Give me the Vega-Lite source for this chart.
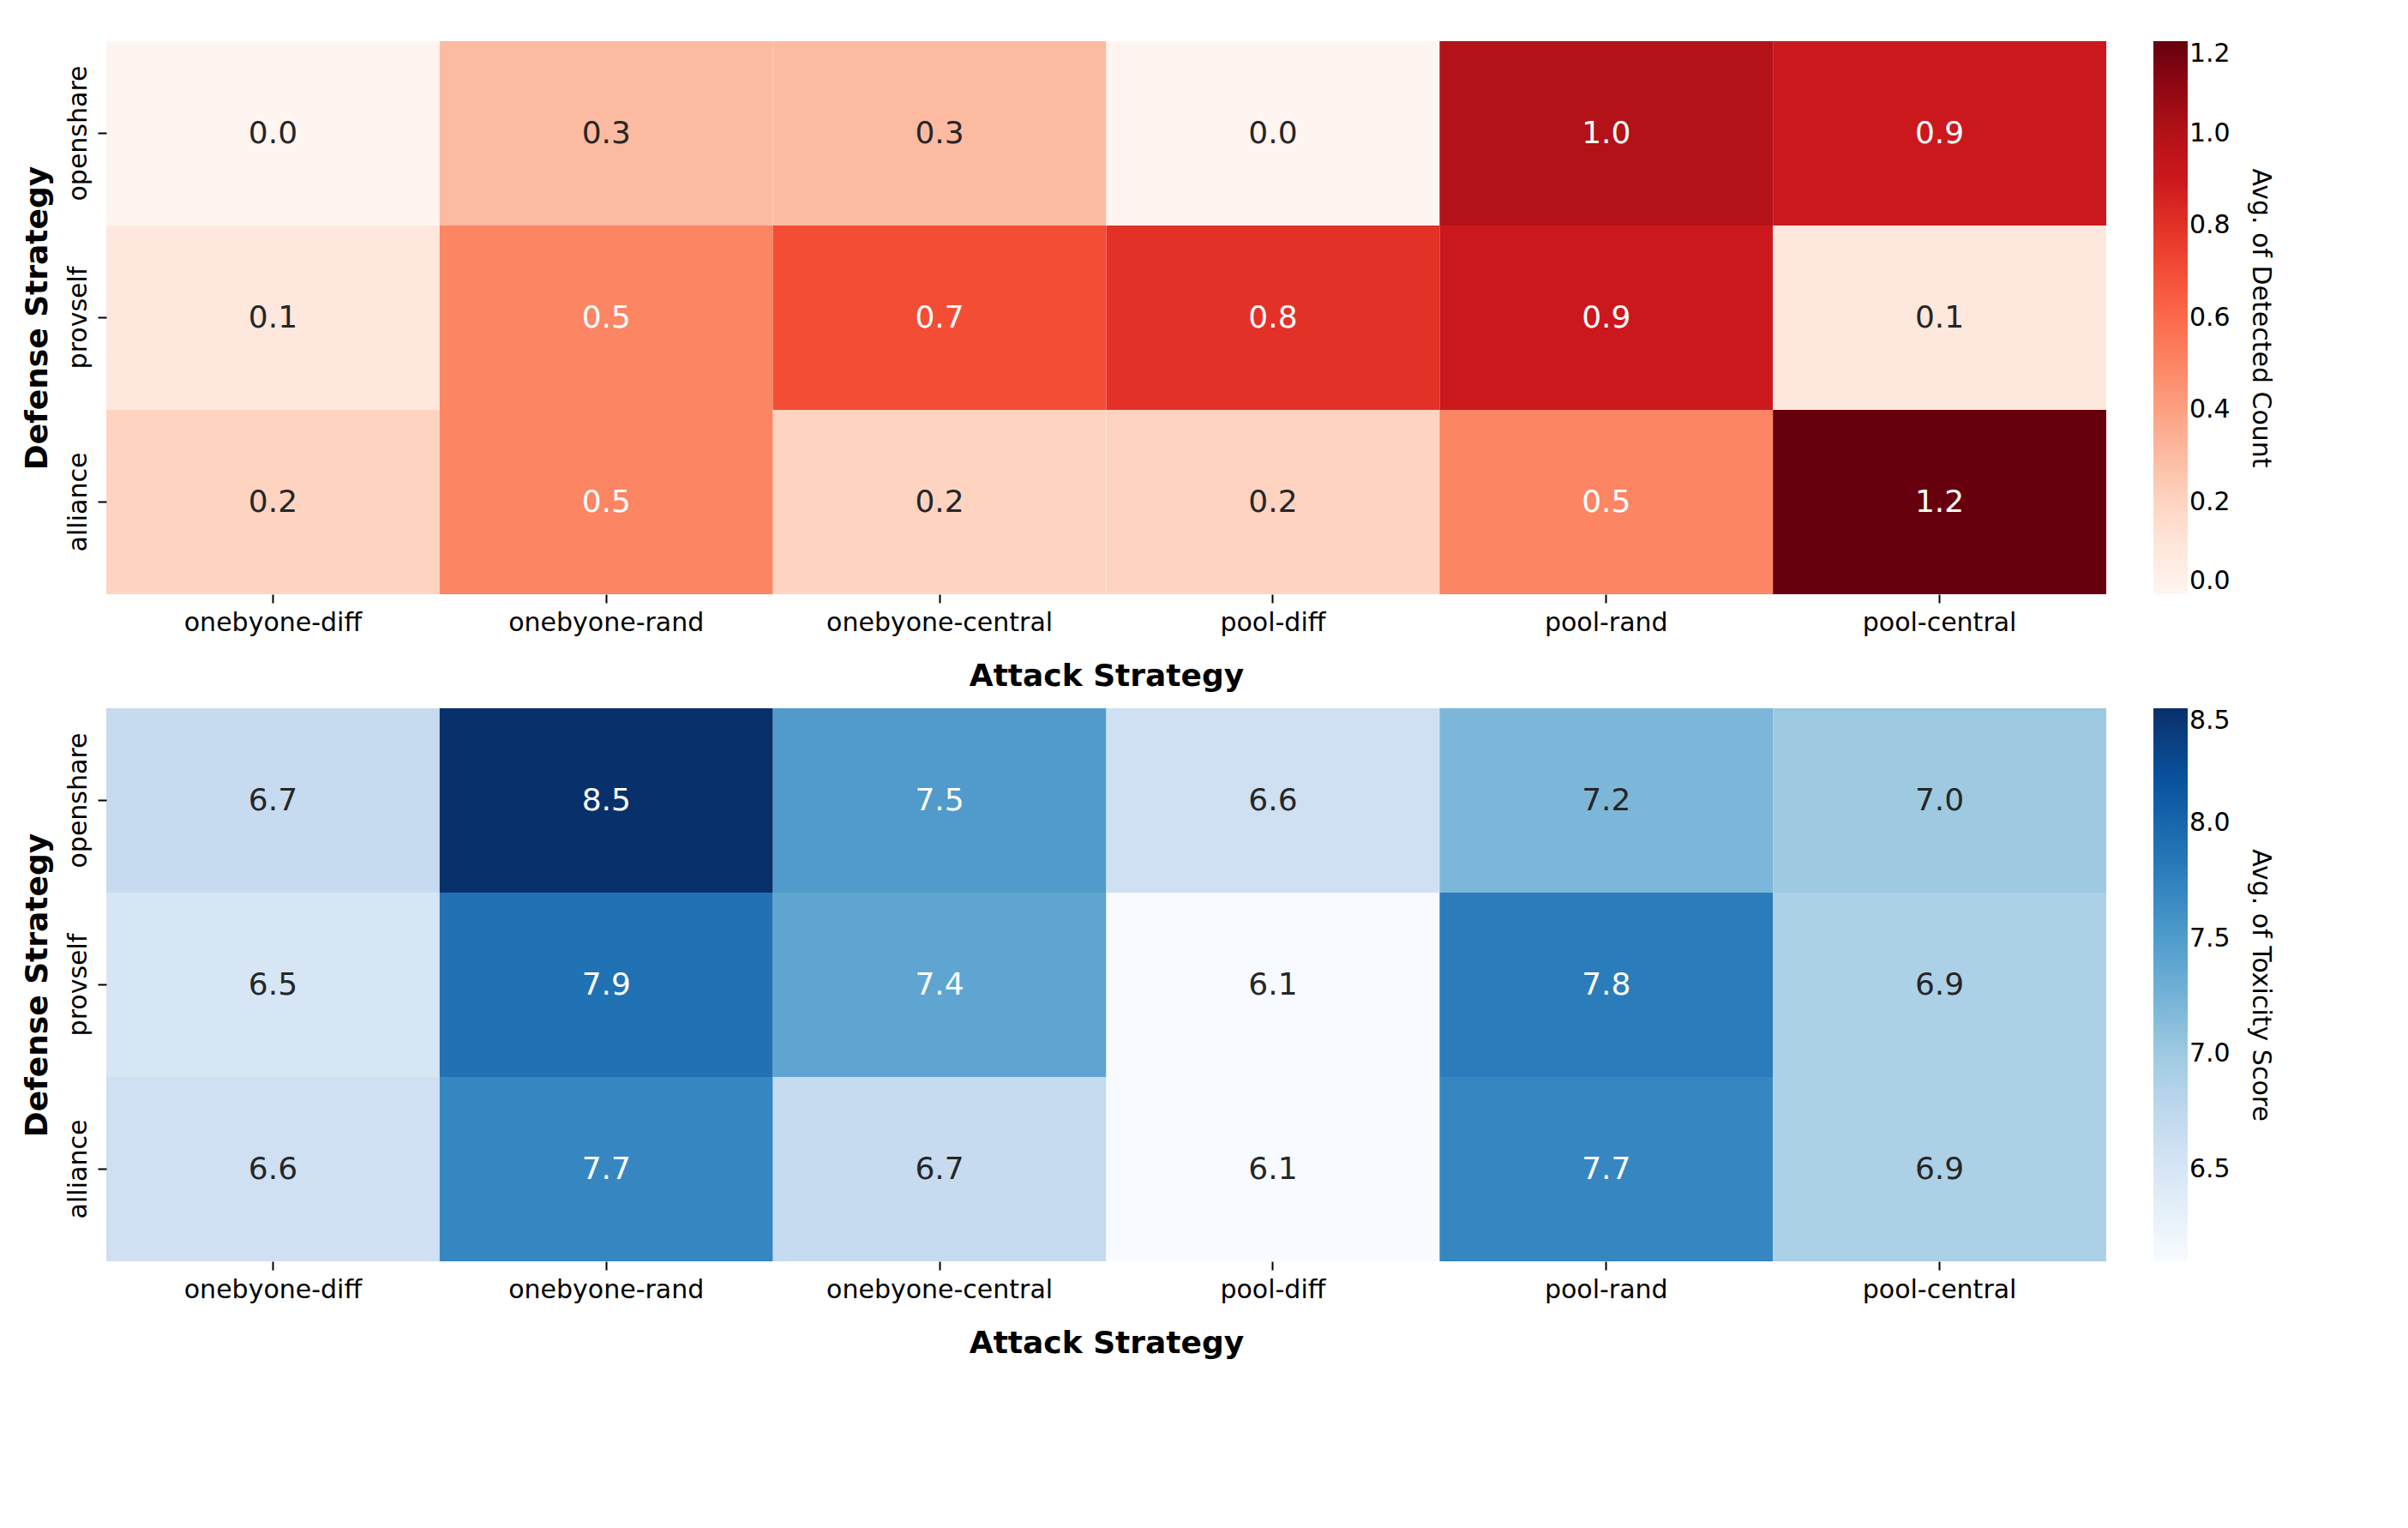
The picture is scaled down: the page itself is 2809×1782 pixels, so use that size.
{
  "$schema": "https://vega.github.io/schema/vega-lite/v6.json",
  "background": "white",
  "padding": {"top": 48, "left": 24, "right": 20, "bottom": 20},
  "config": {
    "font": "DejaVu Sans",
    "view": {"stroke": null},
    "axis": {"labelFont": "DejaVu Sans", "titleFont": "DejaVu Sans", "labelFontSize": 30, "titleFontSize": 36, "titleFontWeight": "bold", "labelColor": "#000", "titleColor": "#000", "domain": false, "tickColor": "#000", "tickSize": 10, "tickWidth": 2, "grid": false, "labelPadding": 8, "labelLimit": 0},
    "legend": {"labelFont": "DejaVu Sans", "titleFont": "DejaVu Sans", "labelFontSize": 30, "titleFontSize": 30, "titleFontWeight": "normal", "labelColor": "#000", "titleColor": "#000", "labelLimit": 0, "titleLimit": 0},
    "vconcat": {"spacing": 60}
  },
  "datasets": {
    "detected": [
      {"attack": "onebyone-diff", "defense": "openshare", "value": 0.0},
      {"attack": "onebyone-rand", "defense": "openshare", "value": 0.3},
      {"attack": "onebyone-central", "defense": "openshare", "value": 0.3},
      {"attack": "pool-diff", "defense": "openshare", "value": 0.0},
      {"attack": "pool-rand", "defense": "openshare", "value": 1.0},
      {"attack": "pool-central", "defense": "openshare", "value": 0.9},
      {"attack": "onebyone-diff", "defense": "provself", "value": 0.1},
      {"attack": "onebyone-rand", "defense": "provself", "value": 0.5},
      {"attack": "onebyone-central", "defense": "provself", "value": 0.7},
      {"attack": "pool-diff", "defense": "provself", "value": 0.8},
      {"attack": "pool-rand", "defense": "provself", "value": 0.9},
      {"attack": "pool-central", "defense": "provself", "value": 0.1},
      {"attack": "onebyone-diff", "defense": "alliance", "value": 0.2},
      {"attack": "onebyone-rand", "defense": "alliance", "value": 0.5},
      {"attack": "onebyone-central", "defense": "alliance", "value": 0.2},
      {"attack": "pool-diff", "defense": "alliance", "value": 0.2},
      {"attack": "pool-rand", "defense": "alliance", "value": 0.5},
      {"attack": "pool-central", "defense": "alliance", "value": 1.2}
    ],
    "toxicity": [
      {"attack": "onebyone-diff", "defense": "openshare", "value": 6.7},
      {"attack": "onebyone-rand", "defense": "openshare", "value": 8.5},
      {"attack": "onebyone-central", "defense": "openshare", "value": 7.5},
      {"attack": "pool-diff", "defense": "openshare", "value": 6.6},
      {"attack": "pool-rand", "defense": "openshare", "value": 7.2},
      {"attack": "pool-central", "defense": "openshare", "value": 7.0},
      {"attack": "onebyone-diff", "defense": "provself", "value": 6.5},
      {"attack": "onebyone-rand", "defense": "provself", "value": 7.9},
      {"attack": "onebyone-central", "defense": "provself", "value": 7.4},
      {"attack": "pool-diff", "defense": "provself", "value": 6.1},
      {"attack": "pool-rand", "defense": "provself", "value": 7.8},
      {"attack": "pool-central", "defense": "provself", "value": 6.9},
      {"attack": "onebyone-diff", "defense": "alliance", "value": 6.6},
      {"attack": "onebyone-rand", "defense": "alliance", "value": 7.7},
      {"attack": "onebyone-central", "defense": "alliance", "value": 6.7},
      {"attack": "pool-diff", "defense": "alliance", "value": 6.1},
      {"attack": "pool-rand", "defense": "alliance", "value": 7.7},
      {"attack": "pool-central", "defense": "alliance", "value": 6.9}
    ]
  },
  "vconcat": [
    {
      "width": 2333,
      "height": 645,
      "data": {"name": "detected"},
      "encoding": {
        "x": {"field": "attack", "type": "nominal", "sort": ["onebyone-diff", "onebyone-rand", "onebyone-central", "pool-diff", "pool-rand", "pool-central"], "title": "Attack Strategy", "axis": {"labelAngle": 0, "titlePadding": 30}},
        "y": {"field": "defense", "type": "nominal", "sort": ["openshare", "provself", "alliance"], "title": "Defense Strategy", "axis": {"labelAngle": -90, "labelAlign": "center", "labelBaseline": "bottom", "titlePadding": 14}}
      },
      "layer": [
        {
          "mark": {"type": "rect"},
          "encoding": {
            "color": {"field": "value", "type": "quantitative", "scale": {"range": ["#fff5f0", "#fee0d2", "#fcbba1", "#fc9272", "#fb6a4a", "#ef3b2c", "#cb181d", "#a50f15", "#67000d"], "domain": [0, 1.2]}, "title": "Avg. of Detected Count",
              "legend": {"gradientLength": 645, "gradientThickness": 40, "values": [0, 0.2, 0.4, 0.6, 0.8, 1.0, 1.2], "format": ".1f", "titleOrient": "right", "titleAngle": -90, "titleAlign": "center", "titleBaseline": "bottom", "titlePadding": 20, "offset": 55}}
          }
        },
        {
          "mark": {"type": "text", "fontSize": 36},
          "encoding": {
            "text": {"field": "value", "type": "quantitative", "format": ".1f"},
            "color": {"condition": {"test": "datum.value > 0.45", "value": "white"}, "value": "#262626"}
          }
        }
      ]
    },
    {
      "width": 2333,
      "height": 645,
      "data": {"name": "toxicity"},
      "encoding": {
        "x": {"field": "attack", "type": "nominal", "sort": ["onebyone-diff", "onebyone-rand", "onebyone-central", "pool-diff", "pool-rand", "pool-central"], "title": "Attack Strategy", "axis": {"labelAngle": 0, "titlePadding": 30}},
        "y": {"field": "defense", "type": "nominal", "sort": ["openshare", "provself", "alliance"], "title": "Defense Strategy", "axis": {"labelAngle": -90, "labelAlign": "center", "labelBaseline": "bottom", "titlePadding": 14}}
      },
      "layer": [
        {
          "mark": {"type": "rect"},
          "encoding": {
            "color": {"field": "value", "type": "quantitative", "scale": {"range": ["#f7fbff", "#deebf7", "#c6dbef", "#9ecae1", "#6baed6", "#4292c6", "#2171b5", "#08519c", "#08306b"], "domain": [6.1, 8.5]}, "title": "Avg. of Toxicity Score",
              "legend": {"gradientLength": 645, "gradientThickness": 40, "values": [6.5, 7.0, 7.5, 8.0, 8.5], "format": ".1f", "titleOrient": "right", "titleAngle": -90, "titleAlign": "center", "titleBaseline": "bottom", "titlePadding": 20, "offset": 55}}
          }
        },
        {
          "mark": {"type": "text", "fontSize": 36},
          "encoding": {
            "text": {"field": "value", "type": "quantitative", "format": ".1f"},
            "color": {"condition": {"test": "datum.value > 7.3", "value": "white"}, "value": "#262626"}
          }
        }
      ]
    }
  ],
  "resolve": {"scale": {"color": "independent"}, "legend": {"color": "independent"}}
}
